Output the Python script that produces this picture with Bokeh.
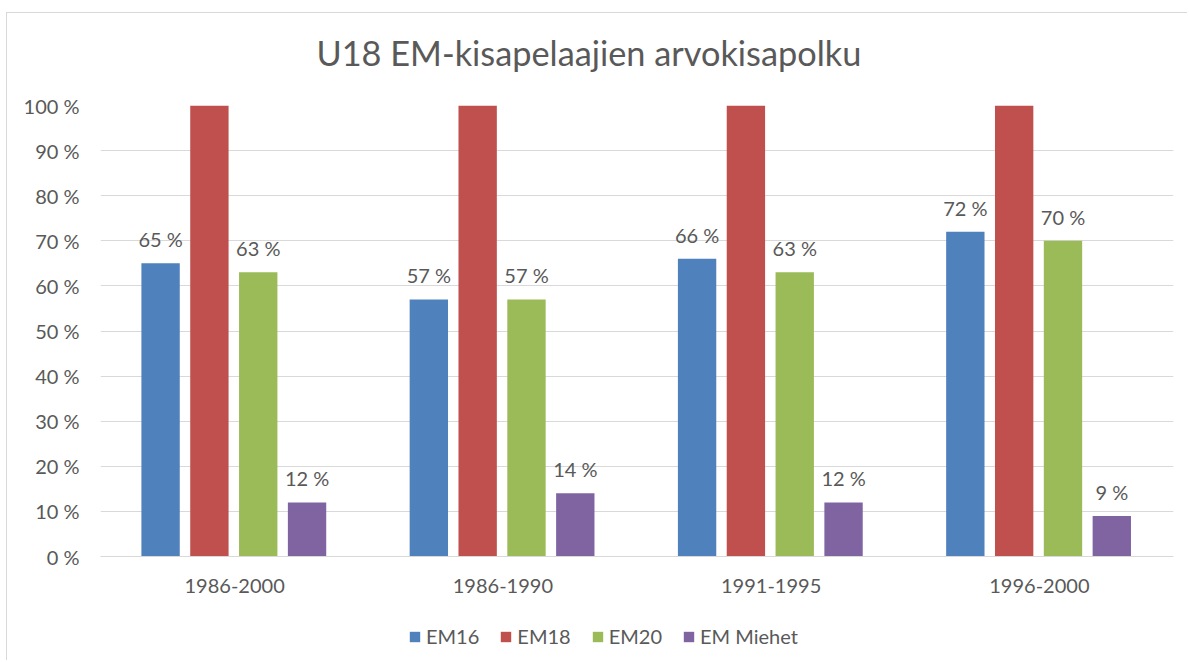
from bokeh.plotting import figure
from bokeh.layouts import column
from bokeh.models import (FactorRange, Legend, LegendItem, ColumnDataSource, Label,
                          PrintfTickFormatter, FixedTicker)
from bokeh.transform import dodge
from bokeh.core.properties import value
from bokeh.embed import file_html
from bokeh.resources import INLINE

categories = ["1986-2000", "1986-1990", "1991-1995", "1996-2000"]
series_names = ["EM16", "EM18", "EM20", "EM Miehet"]
em16 = [65, 57, 66, 72]
em18 = [100, 100, 100, 100]
em20 = [63, 57, 63, 70]
em_miehet = [12, 14, 12, 9]
show_labels = [True, False, True, True]
colors = ["#4f81bd", "#c0504d", "#9bbb59", "#8064a2"]
y_ticks = list(range(0, 101, 10))
title_text = "U18 EM-kisapelaajien arvokisapolku"

FONT = "Lato"
TXT = "#595959"
GRID = "#d9d9d9"

series_values = [em16, em18, em20, em_miehet]
offsets = [-0.276, -0.094, 0.088, 0.270]
bar_w = 0.143

W = 1180
ML, MR = 93, 14
FRAME_W = W - ML - MR

# title strip (frame aligned with the main chart; data units = pixels)
TH = 66
tf = figure(width=W, height=TH, x_range=(0, FRAME_W), y_range=(0, TH), output_backend="svg",
            toolbar_location=None, x_axis_location=None, y_axis_location=None,
            min_border=0, outline_line_color=None)
tf.xgrid.visible = False
tf.ygrid.visible = False
tf.add_layout(Label(x=216, y=27, text=title_text, text_align="left", text_baseline="alphabetic",
                    text_font=FONT, text_font_size="34.3px", text_color=TXT))

p = figure(x_range=FactorRange(*categories, range_padding=0), y_range=(0, 100),
           width=W, height=531, output_backend="svg", toolbar_location=None,
           min_border_left=ML, min_border_top=26, min_border_right=MR, min_border_bottom=54)
p.outline_line_color = None

p.xgrid.grid_line_color = None
p.ygrid.grid_line_color = GRID
p.ygrid.ticker = FixedTicker(ticks=y_ticks)

p.yaxis.ticker = FixedTicker(ticks=y_ticks)
p.yaxis.formatter = PrintfTickFormatter(format="%d %%")
p.yaxis.axis_line_color = None
p.yaxis.major_tick_line_color = None
p.yaxis.minor_tick_line_color = None
p.yaxis.major_tick_out = 0
p.yaxis.major_label_standoff = 21
p.yaxis.major_label_text_font = FONT
p.yaxis.major_label_text_font_size = "20px"
p.yaxis.major_label_text_color = TXT

p.xaxis.axis_line_color = GRID
p.xaxis.major_tick_line_color = None
p.xaxis.minor_tick_line_color = None
p.xaxis.major_tick_out = 0
p.xaxis.major_label_standoff = 22
p.xaxis.major_label_text_font = FONT
p.xaxis.major_label_text_font_size = "20px"
p.xaxis.major_label_text_color = TXT

for name, vals, off, col, lab in zip(series_names, series_values, offsets, colors, show_labels):
    src = ColumnDataSource(dict(cat=categories, val=vals, txt=[f"{v} %" for v in vals]))
    p.vbar(x=dodge("cat", off, range=p.x_range), top="val", width=bar_w, source=src,
           fill_color=col, line_color=None)
    if lab:
        p.text(x=dodge("cat", off, range=p.x_range), y="val", text="txt", source=src,
               text_align="center", text_baseline="alphabetic", y_offset=-24,
               text_font=value(FONT), text_font_size="20px", text_color=TXT)

# legend strip below the chart (frames are aligned with the main chart)
lf = figure(width=W, height=50, x_range=(0, 1), y_range=(0, 1), output_backend="svg",
            toolbar_location=None, x_axis_location=None, y_axis_location=None,
            min_border=0, outline_line_color=None)
lf.xgrid.visible = False
lf.ygrid.visible = False
items = []
for name, col in zip(series_names, colors):
    # zero-size proxy renderer, only used to draw the legend swatch
    r = lf.vbar(x=[0], top=[0], bottom=[0], width=0, fill_color=col, line_color=None)
    items.append(LegendItem(label=name, renderers=[r]))
legend = Legend(items=items, orientation="horizontal", location=(308, 12),
                glyph_width=13, glyph_height=13, label_standoff=5, spacing=20,
                padding=0, margin=0, border_line_color=None, background_fill_alpha=0,
                label_text_font=FONT, label_text_font_size="20px", label_text_color=TXT)
lf.add_layout(legend, "center")

layout = column(tf, p, lf, spacing=0,
                styles={"margin-left": "6px", "margin-top": "12px",
                        "border-left": "1px solid #d9d9d9", "border-top": "1px solid #d9d9d9"})

open("out.html", "w").write(file_html(layout, INLINE))
